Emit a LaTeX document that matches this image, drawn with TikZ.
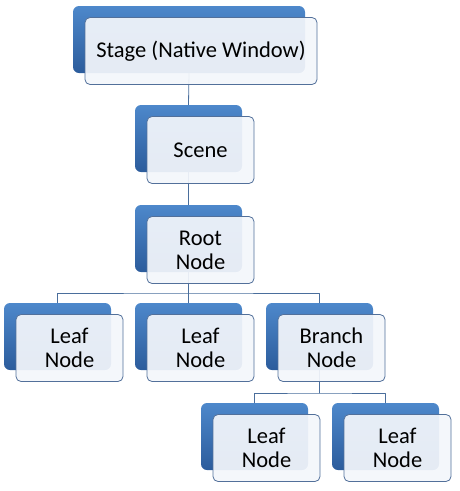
\documentclass[tikz,border=0pt]{standalone}
\usepackage{fontspec}
\setmainfont{Carlito}
\definecolor{backTop}{HTML}{4D88CB}
\definecolor{backBot}{HTML}{2C5C9C}
\definecolor{frontFill}{HTML}{F3F6FB}
\definecolor{frontLine}{HTML}{52709A}
\definecolor{linkLine}{HTML}{4A6E9C}

\begin{document}
\begin{tikzpicture}[x=1pt, y=-1pt, line join = round, line cap = round,
    back/.style={rounded corners=6pt, top color=backTop, bottom color=backBot,
        minimum width=107pt, minimum height=67pt, inner sep=0pt},
    front/.style={rounded corners=5pt, draw=frontLine, line width=0.8pt,
        fill=frontFill, fill opacity=0.93, text opacity=1,
        minimum width=107pt, minimum height=67pt, inner sep=0pt,
        align=center, font=\fontsize{22.5}{24}\selectfont},
    link/.style={draw=linkLine, line width=0.8pt}]
    \useasboundingbox (0,0) rectangle (459,491);

    % back boxes
    \node[back, minimum width=232pt] (stage-b) at (189,39.5) {};
    \node[back] (scene-b) at (188.5,138.5) {};
    \node[back] (root-b) at (188.5,238.5) {};
    \node[back] (leafA-b) at (57.5,336.5) {};
    \node[back] (leafB-b) at (188.5,336.5) {};
    \node[back] (branch-b) at (319.5,336.5) {};
    \node[back] (leafC-b) at (254.5,436.5) {};
    \node[back] (leafD-b) at (385.5,436.5) {};

    \coordinate (bar1) at (188.5,293);
    \coordinate (bar2) at (319.5,393);

    % connectors
    \draw[link] (stage-b.south) -- (scene-b.north);
    \draw[link] (scene-b.south) -- (root-b.north);
    \draw[link] (root-b.south) -- (bar1);
    \draw[link] (leafA-b.north) |- (bar1) -| (branch-b.north);
    \draw[link] (bar1) -- (leafB-b.north);
    \draw[link] (branch-b.south) -- (bar2);
    \draw[link] (leafC-b.north) |- (bar2) -| (leafD-b.north);

    % front boxes
    \node[front, minimum width=232pt] (stage) at (201,51) {Stage (Native Window)};
    \node[front] (scene) at (200.5,150) {Scene};
    \node[front] (root) at (200.5,250) {Root\\Node};
    \node[front] (leafA) at (69.5,348) {Leaf\\Node};
    \node[front] (leafB) at (200.5,348) {Leaf\\Node};
    \node[front] (branch) at (331.5,348) {Branch\\Node};
    \node[front] (leafC) at (266.5,448) {Leaf\\Node};
    \node[front] (leafD) at (397.5,448) {Leaf\\Node};
\end{tikzpicture}
\end{document}
